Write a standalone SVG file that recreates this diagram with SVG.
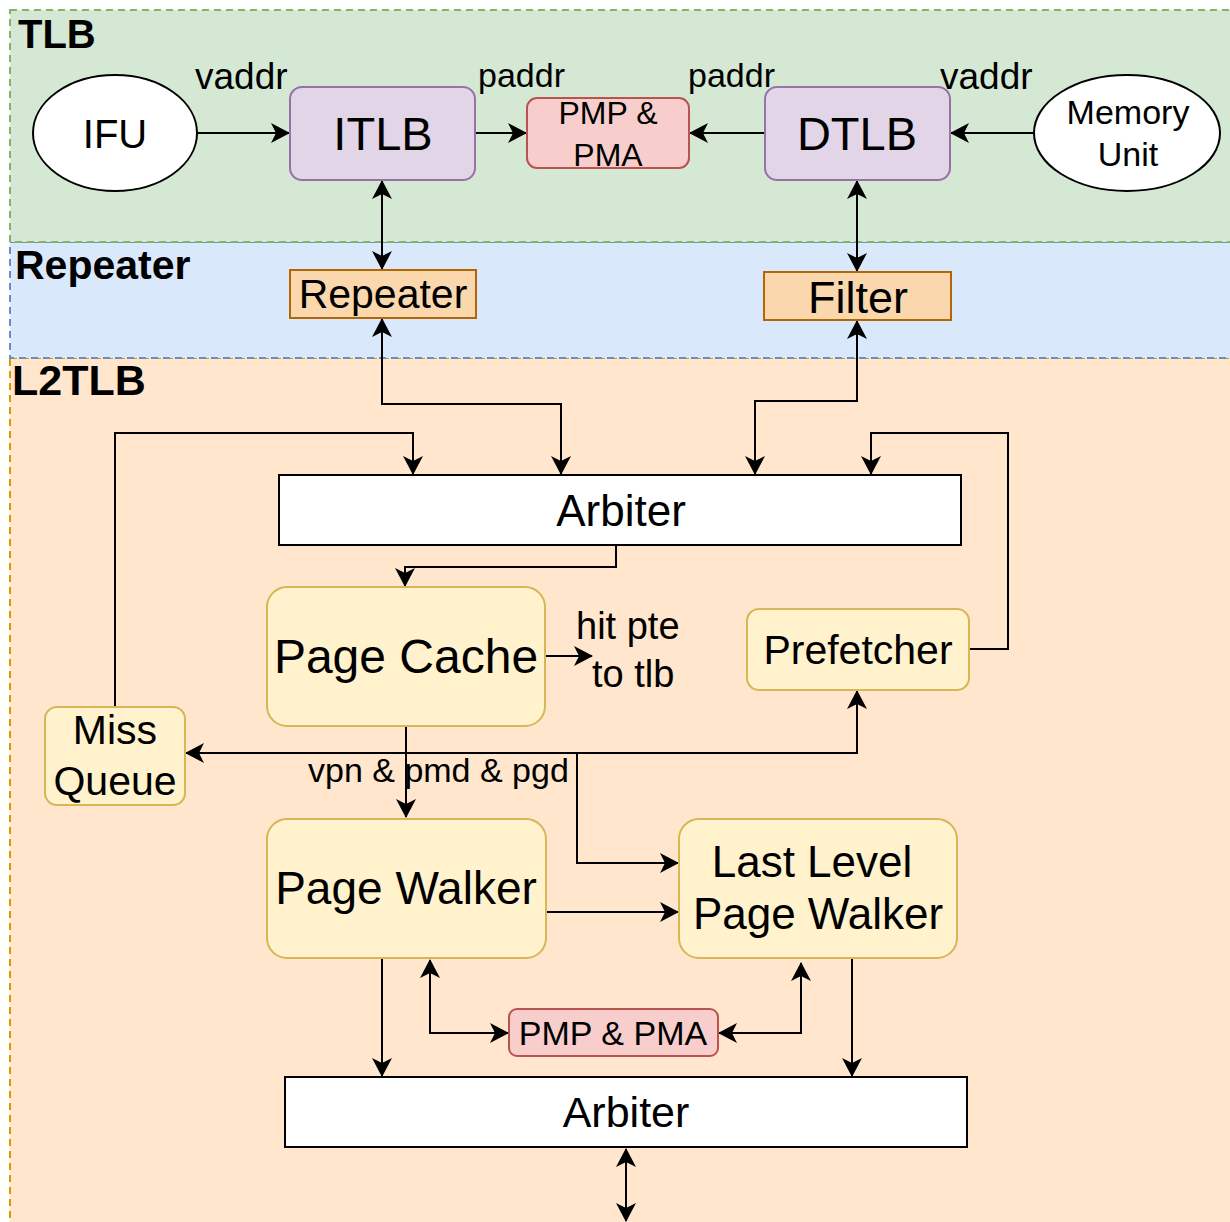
<svg xmlns="http://www.w3.org/2000/svg" width="1230" height="1222" viewBox="0 0 1230 1222">
<style>
text{font-family:"Liberation Sans",Arial,sans-serif;fill:#000}
.lane{stroke-width:2;stroke-dasharray:7 5}
.title{font-weight:bold}
.c{text-anchor:middle}
.n{stroke-width:2}
.purple{fill:#e1d5e7;stroke:#9673a6}
.red{fill:#f8cecc;stroke:#b85450}
.orange{fill:#fad7ac;stroke:#b46504}
.yellow{fill:#fff2cc;stroke:#d6b656}
.white{fill:#fff;stroke:#000}
.e{fill:none;stroke:#000;stroke-width:2}
.a{marker-end:url(#ah)}
.b{marker-start:url(#ah);marker-end:url(#ah)}
</style>
<defs>
<marker id="ah" markerUnits="userSpaceOnUse" markerWidth="20" markerHeight="22" refX="18" refY="11" orient="auto-start-reverse" viewBox="0 0 20 22">
<path d="M0,1 L19,11 L0,21 L5,11 z" fill="#000"/>
</marker>
</defs>
<g id="lanes">
<rect id="lane-l2tlb" class="lane" x="10" y="358" width="1240" height="900" fill="#ffe6cc" stroke="#d79b00"/>
<rect id="lane-repeater" class="lane" x="10" y="242" width="1240" height="116" fill="#dae8fc" stroke="#6c8ebf"/>
<rect id="lane-tlb" class="lane" x="10" y="10" width="1240" height="232" fill="#d5e8d4" stroke="#82b366"/>
<text class="title" x="18" y="48" font-size="40">TLB</text>
<text class="title" x="15" y="279" font-size="41">Repeater</text>
<text class="title" x="12" y="395" font-size="43">L2TLB</text>
</g>
<g id="connectors">
<path class="e a" d="M197,133 H289"/>
<path class="e a" d="M475,133 H526"/>
<path class="e a" d="M764,133 H690"/>
<path class="e a" d="M1033,133 H951"/>
<path class="e b" d="M382,181 V269"/>
<path class="e b" d="M857,181 V271"/>
<path class="e b" d="M382,319 V404 H561 V474"/>
<path class="e b" d="M857,321 V401 H755 V474"/>
<path class="e a" d="M115,707 V433 H413 V474"/>
<path class="e a" d="M969,649 H1008 V433 H871 V474"/>
<path class="e a" d="M616,545 V567 H405 V586"/>
<path class="e a" d="M545,656 H592"/>
<path class="e a" d="M406,726 V817"/>
<path class="e a" d="M406,753 H857 V691"/>
<path class="e a" d="M406,753 H186"/>
<path class="e a" d="M577,753 V863 H678"/>
<path class="e a" d="M546,912 H678"/>
<path class="e a" d="M382,958 V1076"/>
<path class="e b" d="M430,960 V1033 H508"/>
<path class="e b" d="M801,963 V1033 H719"/>
<path class="e a" d="M852,958 V1076"/>
<path class="e b" d="M626,1149 V1221"/>
<text x="195" y="89" font-size="37">vaddr</text>
<text x="478" y="87" font-size="34">paddr</text>
<text x="688" y="87" font-size="34">paddr</text>
<text x="940" y="89" font-size="37">vaddr</text>
<text x="576" y="639" font-size="38">hit pte</text>
<text x="592" y="687" font-size="38">to tlb</text>
<text x="308" y="782" font-size="34">vpn &amp; pmd &amp; pgd</text>
</g>
<g id="ifu"><ellipse cx="115" cy="133" rx="82" ry="58" fill="#fff" stroke="#000" stroke-width="2"/><text class="c" x="115" y="148" font-size="40">IFU</text></g>
<g id="itlb"><rect class="n purple" x="290" y="87" width="185" height="93" rx="12"/><text class="c" x="383" y="150" font-size="47">ITLB</text></g>
<g id="pmp-top"><rect class="n red" x="527" y="98" width="162" height="70" rx="10"/><text class="c" x="608" y="124" font-size="32">PMP &amp;</text><text class="c" x="608" y="166" font-size="32">PMA</text></g>
<g id="dtlb"><rect class="n purple" x="765" y="87" width="185" height="93" rx="12"/><text class="c" x="857" y="150" font-size="47">DTLB</text></g>
<g id="memory-unit"><ellipse cx="1127" cy="133" rx="93" ry="58" fill="#fff" stroke="#000" stroke-width="2"/><text class="c" x="1128" y="124" font-size="34">Memory</text><text class="c" x="1128" y="166" font-size="34">Unit</text></g>
<g id="repeater"><rect class="n orange" x="290" y="270" width="186" height="48"/><text class="c" x="383" y="308" font-size="41">Repeater</text></g>
<g id="filter"><rect class="n orange" x="764" y="272" width="187" height="48"/><text class="c" x="858" y="313" font-size="45">Filter</text></g>
<g id="arbiter-top"><rect class="n white" x="279" y="475" width="682" height="70"/><text class="c" x="621" y="526" font-size="44">Arbiter</text></g>
<g id="page-cache"><rect class="n yellow" x="267" y="587" width="278" height="139" rx="20"/><text class="c" x="406" y="673" font-size="48">Page Cache</text></g>
<g id="prefetcher"><rect class="n yellow" x="747" y="609" width="222" height="81" rx="12"/><text class="c" x="858" y="664" font-size="41">Prefetcher</text></g>
<g id="miss-queue"><rect class="n yellow" x="45" y="707" width="140" height="98" rx="12"/><text class="c" x="115" y="744" font-size="41">Miss</text><text class="c" x="115" y="795" font-size="41">Queue</text></g>
<g id="page-walker"><rect class="n yellow" x="267" y="819" width="279" height="139" rx="20"/><text class="c" x="406" y="904" font-size="46">Page Walker</text></g>
<g id="last-level-page-walker"><rect class="n yellow" x="679" y="819" width="278" height="139" rx="20"/><text class="c" x="812" y="877" font-size="44">Last Level</text><text class="c" x="818" y="929" font-size="44">Page Walker</text></g>
<g id="pmp-bottom"><rect class="n red" x="509" y="1009" width="209" height="47" rx="8"/><text class="c" x="613" y="1045" font-size="34">PMP &amp; PMA</text></g>
<g id="arbiter-bottom"><rect class="n white" x="285" y="1077" width="682" height="70"/><text class="c" x="626" y="1127" font-size="43">Arbiter</text></g>
</svg>
